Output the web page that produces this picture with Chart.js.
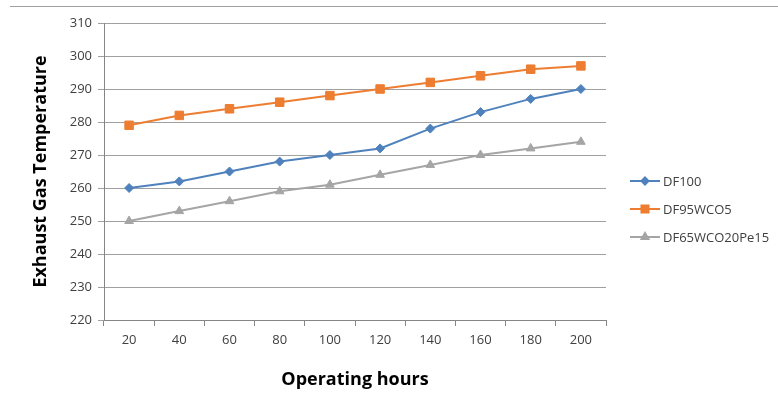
<!DOCTYPE html>
<html>
<head>
<meta charset="utf-8">
<script src="https://cdn.jsdelivr.net/npm/chart.js@4/dist/chart.umd.min.js"></script>
<style>
  html, body { margin: 0; padding: 0; background: #fff; }
  #wrap { position: relative; width: 778px; height: 408px; overflow: hidden; }
  #topline { position: absolute; left: 10px; top: 6px; width: 768px; height: 0;
             border-top: 1px solid #a0a0a0; }
  canvas { position: absolute; left: 0; top: 0; }
</style>
</head>
<body>
<div id="wrap">
  <div id="topline"></div>
  <canvas id="chart" width="778" height="408"></canvas>
</div>
<script>
// operating hours on the x axis
const hours = ["20", "40", "60", "80", "100", "120", "140", "160", "180", "200"];

// exhaust gas temperature per blend
const df100 = [260, 262, 265, 268, 270, 272, 278, 283, 287, 290];
const df95wco5 = [279, 282, 284, 286, 288, 290, 292, 294, 296, 297];
const df65wco20pe15 = [250, 253, 256, 259, 261, 264, 267, 270, 272, 274];

const yMin = 220;
const yMax = 310;
const yStep = 10;

const seriesNames = ["DF100", "DF95WCO5", "DF65WCO20Pe15"];
const colors = ["#4F81BD", "#ED7D31", "#A5A5A5"];

const textFont = "'Open Sans', 'Liberation Sans', sans-serif";

// legend drawn on the right, line with marker through it like Excel
const sideLegend = {
  id: "sideLegend",
  afterDraw(chart) {
    const ctx = chart.ctx;
    const x0 = 630, x1 = 660;
    const ys = [181, 209, 237];
    chart.data.datasets.forEach((ds, i) => {
      const y = ys[i];
      ctx.save();
      ctx.strokeStyle = ds.borderColor;
      ctx.lineWidth = 2;
      ctx.beginPath();
      ctx.moveTo(x0, y);
      ctx.lineTo(x1, y);
      ctx.stroke();
      Chart.helpers.drawPoint(ctx, {
        pointStyle: ds.pointStyle,
        radius: ds.pointRadius - 1,
        rotation: 0,
        borderWidth: 1
      }, (x0 + x1) / 2, y);
      ctx.fillStyle = ds.borderColor;
      ctx.fill();
      ctx.fillStyle = "#404040";
      ctx.font = "13px " + textFont;
      ctx.textBaseline = "middle";
      ctx.fillText(ds.label, x1 + 3, y + 1);
      ctx.restore();
    });
  }
};

const makeSet = (label, data, color, style, r) => ({
  label: label,
  data: data,
  borderColor: color,
  backgroundColor: color,
  borderWidth: 2,
  pointStyle: style,
  pointRadius: r,
  pointHoverRadius: r,
  pointBorderWidth: 1,
  tension: 0
});

new Chart(document.getElementById("chart"), {
  type: "line",
  data: {
    labels: hours,
    datasets: [
      makeSet(seriesNames[0], df100, colors[0], "rectRot", 4.5),
      makeSet(seriesNames[1], df95wco5, colors[1], "rect", 6),
      makeSet(seriesNames[2], df65wco20pe15, colors[2], "triangle", 5)
    ]
  },
  options: {
    responsive: false,
    animation: false,
    layout: { padding: { top: 23, right: 172, bottom: 0, left: 0 } },
    plugins: {
      legend: { display: false },
      tooltip: { enabled: false }
    },
    scales: {
      x: {
        offset: true,
        grid: {
          offset: true,
          drawOnChartArea: false,
          drawTicks: true,
          tickLength: 6,
          color: "#868686"
        },
        border: { color: "#868686", width: 1 },
        ticks: {
          color: "#404040",
          font: { family: textFont, size: 13 },
          padding: 6,
          maxRotation: 0
        },
        title: {
          display: true,
          text: "Operating hours",
          color: "#000",
          font: { family: textFont, size: 18, weight: "bold" },
          padding: { top: 0, bottom: 17 }
        },
        afterFit(scale) { scale.height = 88; }
      },
      y: {
        min: yMin,
        max: yMax,
        grid: {
          color: "#A0A0A0",
          tickLength: 6,
          drawTicks: true
        },
        border: { color: "#868686", width: 1 },
        ticks: {
          stepSize: yStep,
          color: "#404040",
          font: { family: textFont, size: 13 },
          padding: 6
        },
        title: {
          display: true,
          text: "Exhaust Gas Temperature",
          color: "#000",
          font: { family: textFont, size: 18, weight: "bold" },
          padding: { top: 30, bottom: 0 }
        },
        afterFit(scale) { scale.width = 104; }
      }
    }
  },
  plugins: [sideLegend]
});
</script>
</body>
</html>
